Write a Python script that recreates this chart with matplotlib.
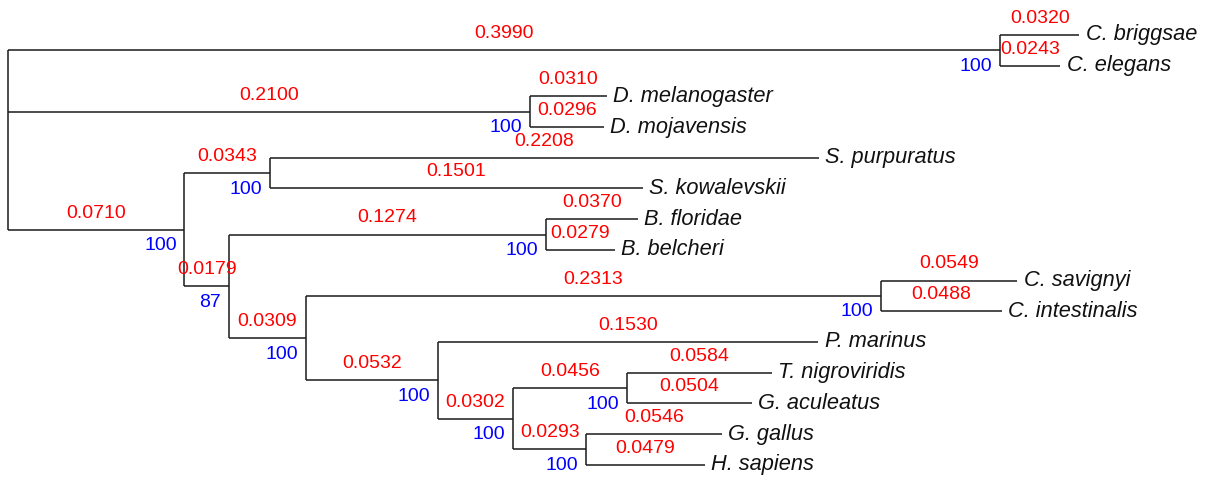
import matplotlib
matplotlib.use('Agg')
import matplotlib.pyplot as plt

plt.rcParams['font.family'] = ['Liberation Sans', 'DejaVu Sans']

# tree: node name, parent, branch length, bootstrap support
nodes = ['root', 'Nem', 'C. briggsae', 'C. elegans', 'Dro', 'D. melanogaster', 'D. mojavensis',
         'Deu', 'Amb', 'S. purpuratus', 'S. kowalevskii', 'Cho', 'Bra', 'B. floridae', 'B. belcheri',
         'Olf', 'Cio', 'C. savignyi', 'C. intestinalis', 'Ver', 'P. marinus', 'Gna', 'Tel',
         'T. nigroviridis', 'G. aculeatus', 'Amn', 'G. gallus', 'H. sapiens']
parents = [None, 'root', 'Nem', 'Nem', 'root', 'Dro', 'Dro',
           'root', 'Deu', 'Amb', 'Amb', 'Deu', 'Cho', 'Bra', 'Bra',
           'Cho', 'Olf', 'Cio', 'Cio', 'Olf', 'Ver', 'Ver', 'Gna',
           'Tel', 'Tel', 'Gna', 'Amn', 'Amn']
lengths = [0.0, 0.3990, 0.0320, 0.0243, 0.2100, 0.0310, 0.0296,
           0.0710, 0.0343, 0.2208, 0.1501, 0.0179, 0.1274, 0.0370, 0.0279,
           0.0309, 0.2313, 0.0549, 0.0488, 0.0532, 0.1530, 0.0302, 0.0456,
           0.0584, 0.0504, 0.0293, 0.0546, 0.0479]
support = [None, 100, None, None, 100, None, None,
           100, 100, None, None, 87, 100, None, None,
           100, 100, None, None, 100, None, 100, 100,
           None, None, 100, None, None]

children = {n: [] for n in nodes}
for n, p in zip(nodes, parents):
    if p is not None:
        children[p].append(n)
blen = dict(zip(nodes, lengths))
boot = dict(zip(nodes, support))

# x = distance from root, y = leaf order (internal = mean of children)
xpos, ypos = {}, {}
leaf_count = [0]


def layout(n, x):
    xpos[n] = x
    if not children[n]:
        ypos[n] = leaf_count[0]
        leaf_count[0] += 1
    else:
        for c in children[n]:
            layout(c, x + blen[c])
        ys = [ypos[c] for c in children[n]]
        ypos[n] = sum(ys) / len(ys)


layout('root', 0.0)

fig = plt.figure(figsize=(12.12, 4.78), dpi=100)
ax = fig.add_axes([0, 0, 1, 1])
ax.set_xlim(-0.0032, 0.4843)
ax.set_ylim(14.43, -1.14)
ax.axis('off')

lc = '#1a1a1a'
for n in nodes:
    kids = children[n]
    if kids:
        ys = [ypos[c] for c in kids]
        ax.plot([xpos[n], xpos[n]], [min(ys), max(ys)], color=lc, lw=1.1, solid_capstyle='butt')
    p = parents[nodes.index(n)]
    if p is not None:
        ax.plot([xpos[p], xpos[n]], [ypos[n], ypos[n]], color=lc, lw=1.1, solid_capstyle='butt')
        ax.annotate(f'{blen[n]:.4f}', ((xpos[p] + xpos[n]) / 2, ypos[n]),
                    xytext=(0, 12), textcoords='offset points',
                    ha='center', va='center', color='red', fontsize=14)
    if not kids:
        ax.annotate(n, (xpos[n], ypos[n]), xytext=(4.5, 0), textcoords='offset points',
                    ha='left', va='center', fontsize=15.7, style='italic', color='#111111')
    if boot[n] is not None:
        ax.annotate(str(boot[n]), (xpos[n], ypos[n]), xytext=(-5.5, -11.5),
                    textcoords='offset points', ha='right', va='center',
                    color='blue', fontsize=14)

fig.savefig('out.png', dpi=100)
